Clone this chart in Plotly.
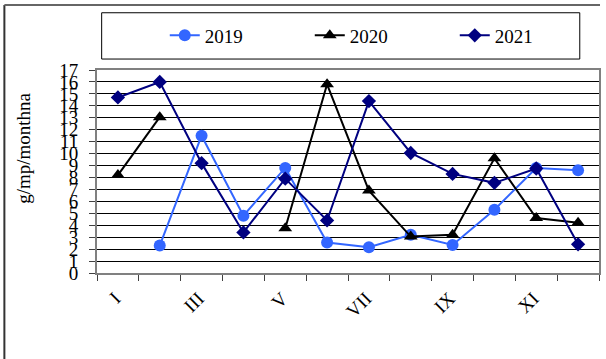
import plotly.graph_objects as go

months = ["I", "II", "III", "IV", "V", "VI", "VII", "VIII", "IX", "X", "XI", "XII"]
y2019 = [None, 2.3, 11.5, 4.8, 8.8, 2.55, 2.15, 3.2, 2.35, 5.3, 8.8, 8.6]
y2020 = [8.2, 13.05, None, None, 3.75, 15.8, 6.9, 3.05, 3.2, 9.6, 4.6, 4.2]
y2021 = [14.7, 16.0, 9.2, 3.4, 7.9, 4.4, 14.4, 10.05, 8.3, 7.55, 8.75, 2.4]
y_title = "g/mp/monthna"
caption = "(Diagram 3)"

FONT = "Times New Roman, Liberation Serif, DejaVu Serif, serif"
xpos = list(range(len(months)))

fig = go.Figure()
fig.add_trace(go.Scatter(x=xpos, y=y2019, name="2019", mode="lines+markers",
                         line=dict(color="#3366FF", width=2),
                         marker=dict(symbol="circle", size=12, color="#3366FF")))
fig.add_trace(go.Scatter(x=xpos, y=y2020, name="2020", mode="lines+markers",
                         line=dict(color="#000000", width=2),
                         marker=dict(symbol="triangle-up", size=12, color="#000000")))
fig.add_trace(go.Scatter(x=xpos, y=y2021, name="2021", mode="lines+markers",
                         line=dict(color="#000080", width=2),
                         marker=dict(symbol="diamond", size=11, color="#000080")))

fig.update_layout(
    width=606, height=359,
    margin=dict(l=97, r=5, t=70, b=86),
    paper_bgcolor="white", plot_bgcolor="white",
    font=dict(family=FONT, size=19, color="black"),
    showlegend=True,
    legend=dict(orientation="h", x=0.135, xanchor="left", y=1.17, yanchor="middle",
                entrywidth=100, entrywidthmode="pixels",
                bgcolor="rgba(0,0,0,0)", borderwidth=0,
                font=dict(family=FONT, size=19)),
    xaxis=dict(range=[-0.5, 11.5], tickmode="array",
               tickvals=xpos[::2], ticktext=months[::2],
               tickangle=-45, ticks="", showgrid=False, zeroline=False,
               showline=True, linecolor="#808080", linewidth=2, mirror=True,
               ticklabelstandoff=5, ticklabelshift=-3,
               tickfont=dict(family=FONT, size=19),
               minor=dict(tickvals=[i - 0.5 for i in range(len(months) + 1)],
                          ticks="outside", ticklen=6, tickcolor="#404040",
                          tickwidth=1, showgrid=False)),
    yaxis=dict(range=[0, 17], dtick=1, tick0=0, ticks="outside", ticklen=6,
               tickcolor="#404040", showgrid=True, gridcolor="black", gridwidth=1,
               zeroline=False, showline=True, linecolor="#808080", linewidth=2,
               mirror=True, ticklabelstandoff=7,
               tickfont=dict(family=FONT, size=19)),
    shapes=[
        dict(type="rect", xref="paper", yref="paper", x0=0.0093, x1=0.9617,
             y0=1.054, y1=1.282, line=dict(color="black", width=1)),
        dict(type="line", xref="paper", yref="paper", x0=-0.1845, x1=-0.1845,
             y0=-0.5, y1=1.320, line=dict(color="#333333", width=2)),
        dict(type="line", xref="paper", yref="paper", x0=-0.1845, x1=1.002,
             y0=1.320, y1=1.320, line=dict(color="#666666", width=2)),
    ],
    annotations=[
        dict(text=y_title, xref="paper", yref="paper", x=-0.148, y=0.615,
             textangle=-90, showarrow=False, xanchor="center", yanchor="middle",
             font=dict(family=FONT, size=19)),
        dict(text="<b>" + caption + "</b>", xref="paper", yref="paper",
             x=-0.18, y=1.343, xanchor="left", yanchor="bottom", showarrow=False,
             font=dict(family=FONT, size=19)),
    ],
)

fig.write_html("out.html",
               config={"displayModeBar": False},
               post_script="document.body.style.margin='0';"
                           "document.body.style.overflow='hidden';")
